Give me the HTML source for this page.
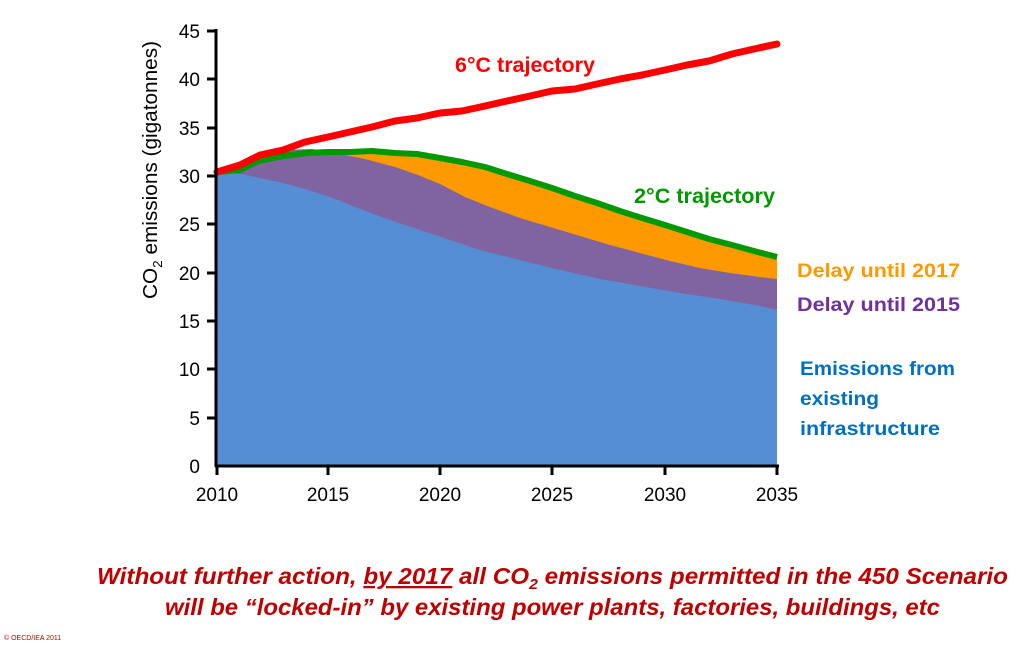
<!DOCTYPE html>
<html><head><meta charset="utf-8"><style>
body{margin:0;background:#fff;width:1024px;height:648px;overflow:hidden;font-family:"Liberation Sans",sans-serif}
</style></head><body>
<svg width="1024" height="648" xmlns="http://www.w3.org/2000/svg" style="position:absolute;left:0;top:0">
<polygon fill="#FF9900" points="217,172 240,170 258,161 283,156 305,153 328,152 350,152 372,151 395,153 417,154 440,158 462,162 485,167 507,174 530,181 552,188 575,196 597,203 620,211 642,218 665,225 687,232 709,239 732,245 754,251 777,257 777,466 217,466"/>
<polygon fill="#8064A2" points="217,172 240,170 260,161 283,150 312,149 335,153 365,159 395,167 418,175 440,184 465,197 490,207 520,218 550,227 580,236 610,245 640,253 670,261 700,268 730,273 760,277 777,279 777,466 217,466"/>
<polygon fill="#558ED5" points="217,172 240,174 260,178 283,183 305,189 330,197 360,209 390,220 420,230 450,240 480,250 520,260 560,270 600,279 640,286 680,293 720,299 760,306 777,310 777,466 217,466"/>
<polyline fill="none" stroke="#009900" stroke-width="6" stroke-linejoin="round" points="217,172 240,170 258,161 283,156 305,153 328,152 350,152 372,151 395,153 417,154 440,158 462,162 485,167 507,174 530,181 552,188 575,196 597,203 620,211 642,218 665,225 687,232 709,239 732,245 754,251 777,257"/>
<polyline fill="none" stroke="#FF0000" stroke-width="7" stroke-linejoin="round" stroke-linecap="round" points="217,172 240,165 260,155 283,150 305,142 328,137 350,132 372,127 395,121 417,118 440,113 462,111 485,106 507,101 530,96 552,91 575,89 597,84 620,79 642,75 665,70 687,65 709,61 732,54 754,49 777,44"/>
<g stroke="#000" stroke-width="3">
<line x1="216" y1="29" x2="216" y2="467"/><line x1="215" y1="466" x2="779" y2="466"/>
<line x1="207" y1="31" x2="216" y2="31"/><line x1="207" y1="79" x2="216" y2="79"/><line x1="207" y1="128" x2="216" y2="128"/><line x1="207" y1="176" x2="216" y2="176"/><line x1="207" y1="224" x2="216" y2="224"/><line x1="207" y1="273" x2="216" y2="273"/><line x1="207" y1="321" x2="216" y2="321"/><line x1="207" y1="369" x2="216" y2="369"/><line x1="207" y1="418" x2="216" y2="418"/>
<line x1="328" y1="466" x2="328" y2="475"/><line x1="440" y1="466" x2="440" y2="475"/><line x1="552" y1="466" x2="552" y2="475"/><line x1="665" y1="466" x2="665" y2="475"/><line x1="777" y1="466" x2="777" y2="475"/><line x1="217" y1="466" x2="217" y2="475"/>
</g>
<g font-size="19" text-anchor="end" fill="#000">
<text x="200" y="38">45</text><text x="200" y="86">40</text><text x="200" y="135">35</text><text x="200" y="183">30</text><text x="200" y="231">25</text><text x="200" y="280">20</text><text x="200" y="328">15</text><text x="200" y="376">10</text><text x="200" y="425">5</text><text x="200" y="473">0</text>
</g>
<g font-size="19" text-anchor="middle" fill="#000">
<text x="217" y="501">2010</text><text x="328" y="501">2015</text><text x="440" y="501">2020</text><text x="552" y="501">2025</text><text x="665" y="501">2030</text><text x="777" y="501">2035</text>
</g>
<text transform="translate(157,170) rotate(-90)" font-size="20" text-anchor="middle" fill="#000" textLength="258" lengthAdjust="spacingAndGlyphs">CO<tspan font-size="13" dy="5">2</tspan><tspan dy="-5"> emissions (gigatonnes)</tspan></text>
<g font-weight="bold" font-size="21" lengthAdjust="spacingAndGlyphs">
<text x="455" y="72" fill="#FF0000" textLength="140" lengthAdjust="spacingAndGlyphs">6°C trajectory</text>
<text x="634" y="203" fill="#009900" textLength="141" lengthAdjust="spacingAndGlyphs">2°C trajectory</text>
<text x="797" y="277" fill="#FF9900" font-size="19" textLength="163" lengthAdjust="spacingAndGlyphs">Delay until 2017</text>
<text x="797" y="311" fill="#7030A0" font-size="19" textLength="163" lengthAdjust="spacingAndGlyphs">Delay until 2015</text>
<text x="800" y="375" fill="#0070C0" font-size="19" textLength="155" lengthAdjust="spacingAndGlyphs">Emissions from</text>
<text x="800" y="405" fill="#0070C0" font-size="19" textLength="79" lengthAdjust="spacingAndGlyphs">existing</text>
<text x="800" y="435" fill="#0070C0" font-size="19" textLength="140" lengthAdjust="spacingAndGlyphs">infrastructure</text>
</g>
<g font-weight="bold" font-style="italic" font-size="23" fill="#C00000">
<text x="97" y="584" textLength="911" lengthAdjust="spacingAndGlyphs">Without further action, <tspan text-decoration="underline">by 2017</tspan> all CO<tspan font-size="15" dy="5">2</tspan><tspan dy="-5"> emissions permitted in the 450 Scenario</tspan></text>
<text x="165" y="615" textLength="775" lengthAdjust="spacingAndGlyphs">will be “locked-in” by existing power plants, factories, buildings, etc</text>
</g>
<text x="4" y="640" font-size="7" fill="#C00000">© OECD/IEA 2011</text>
</svg>
</body></html>
